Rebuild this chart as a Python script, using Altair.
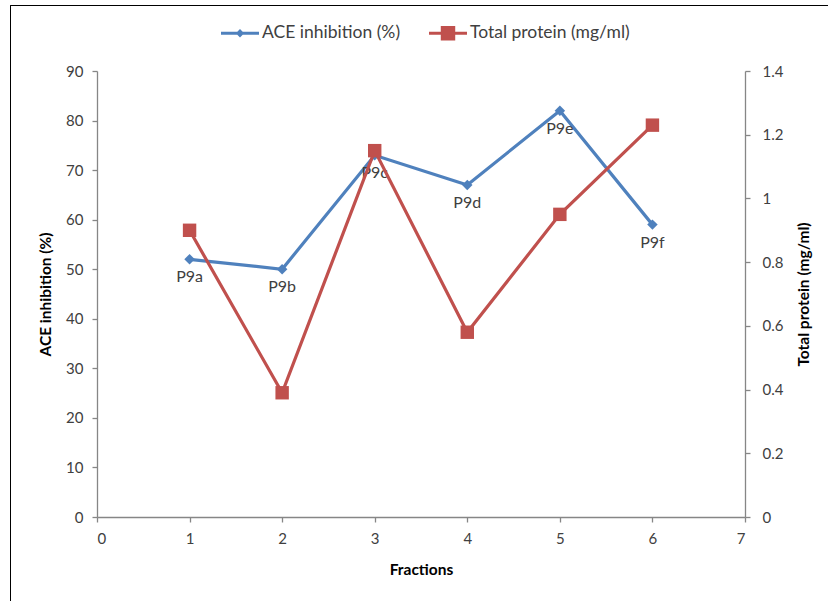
import altair as alt
import pandas as pd

fractions = [1, 2, 3, 4, 5, 6]
labels = ["P9a", "P9b", "P9c", "P9d", "P9e", "P9f"]
ace = [52, 50, 73, 67, 82, 59]
protein = [0.90, 0.39, 1.15, 0.58, 0.95, 1.23]
series = ["ACE inhibition (%)", "Total protein (mg/ml)"]
colors = ["#4F81BD", "#C0504D"]

df = pd.DataFrame({"fraction": fractions, "label": labels, "ace": ace, "protein": protein})
leg_df = pd.DataFrame({"series": series})

FONT = "Lato"

x_enc = alt.X("fraction:Q", scale=alt.Scale(domain=[0, 7], nice=False),
              axis=alt.Axis(values=list(range(0, 8)), title="Fractions",
                            labelPadding=9, titlePadding=16))

base = alt.Chart(df)

y_ace = alt.Y("ace:Q", scale=alt.Scale(domain=[0, 90], nice=False),
              axis=alt.Axis(values=list(range(0, 91, 10)), title="ACE inhibition (%)",
                            orient="left", labelPadding=9, titlePadding=12))
y_pro = alt.Y("protein:Q", scale=alt.Scale(domain=[0, 1.4], nice=False),
              axis=alt.Axis(values=[0, 0.2, 0.4, 0.6, 0.8, 1.0, 1.2, 1.4], format="~g",
                            title="Total protein (mg/ml)", orient="right",
                            labelPadding=12, titlePadding=29, titleAngle=270))

blue = alt.layer(
    base.mark_line(color=colors[0], strokeWidth=3.2).encode(x=x_enc, y=y_ace),
    base.mark_point(shape="diamond", filled=True, size=110, opacity=1, color=colors[0]).encode(x=x_enc, y=y_ace),
    base.mark_text(font=FONT, fontSize=16, color="#404040", baseline="middle", dy=18).encode(
        x=x_enc, y=y_ace, text="label:N"),
)

red = alt.layer(
    base.mark_line(color=colors[1], strokeWidth=3.2).encode(x=x_enc, y=y_pro),
    base.mark_point(shape="square", filled=True, size=180, opacity=1, color=colors[1]).encode(x=x_enc, y=y_pro),
)

paths = [
    "M-1,-0.08H1V0.08H-1Z M0,-0.22L0.22,0L0,0.22L-0.22,0Z",
    "M-1,-0.08H1V0.08H-1Z M-0.38,-0.38H0.38V0.38H-0.38Z",
]

legend_layer = alt.Chart(leg_df).mark_point(filled=True, opacity=0).encode(
    color=alt.Color("series:N", scale=alt.Scale(domain=series, range=colors),
                    legend=alt.Legend(title=None, orient="none", direction="horizontal",
                                      legendX=124, legendY=-57, symbolSize=1444,
                                      symbolOpacity=1, symbolStrokeWidth=0,
                                      labelOffset=3, columnPadding=28,
                                      labelFont=FONT, labelFontSize=17.5, labelColor="#404040")),
    shape=alt.Shape("series:N", scale=alt.Scale(domain=series, range=paths), legend=None),
)

frame = alt.Chart(leg_df).mark_rect(fill=None, stroke="#000000", strokeWidth=1).encode(
    x=alt.value(-86.5), x2=alt.value(760), y=alt.value(-65.5), y2=alt.value(560)
)

chart = alt.layer(frame, blue, red, legend_layer).resolve_scale(y="independent").properties(
    width=648, height=446,
    autosize="none",
    padding={"left": 97, "top": 71, "right": 83, "bottom": 84},
).configure_view(stroke=None).configure_axis(
    grid=False, domainColor="#868686", tickColor="#868686", tickSize=5,
    labelColor="#404040", labelFont=FONT, labelFontSize=15,
    titleFont=FONT, titleFontSize=15.5, titleFontWeight="bold", titleColor="#000000",
    domainWidth=1.3, tickWidth=1.3,
)

chart.save("out.html", embed_options={"renderer": "svg", "actions": False})
